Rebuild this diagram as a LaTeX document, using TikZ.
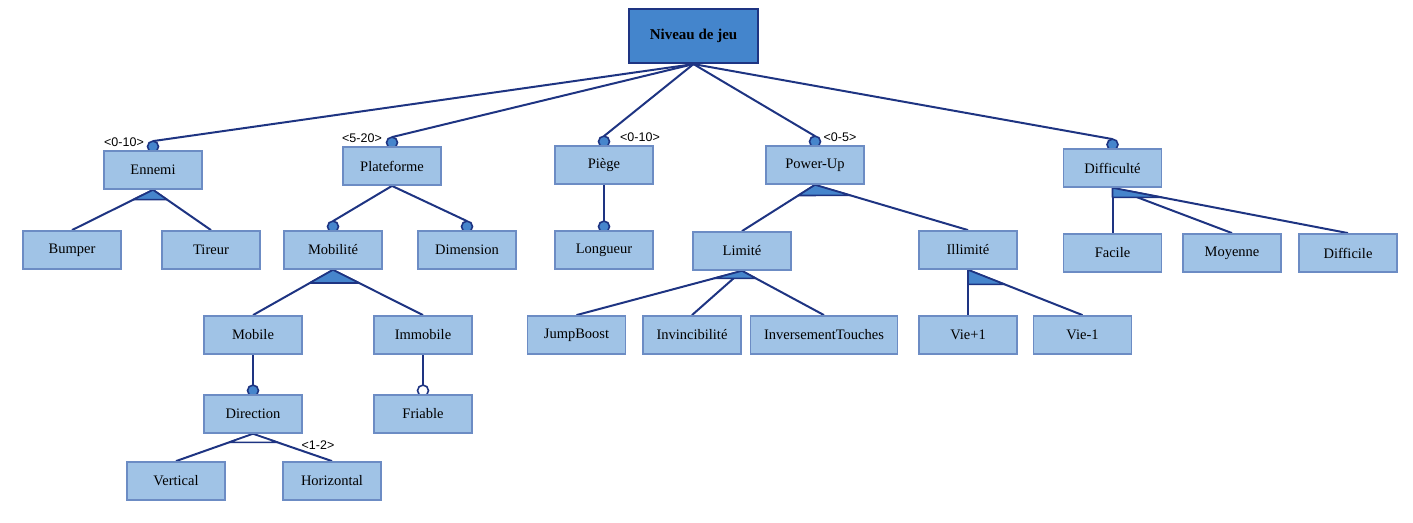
\documentclass[tikz,border=0pt]{standalone}
\usepackage{fontspec}
\setmainfont{Liberation Serif}
\newfontfamily\cardfont{Liberation Sans}
\usetikzlibrary{calc}
\pgfdeclarelayer{bg}
\pgfsetlayers{bg,main}
\definecolor{boxfill}{RGB}{160,195,230}
\definecolor{boxline}{RGB}{108,140,196}
\definecolor{rootfill}{RGB}{68,133,204}
\definecolor{navy}{RGB}{30,52,130}
\definecolor{dotfill}{RGB}{70,133,204}
\newcommand\featlink[3]{%
  \draw[link] (#1) -- ($(#2.north)+(0,-9)$);
  \draw[navy, line width=1.6pt, fill=#3] ($(#2.north)+(0,-3.5)$) circle (5.5);
}
\newcommand\grouptri[5]{%
  \filldraw[navy, fill=#5, line width=1.6pt, line join=round] (#1) -- ($(#1)!#4!(#2)$) -- ($(#1)!#4!(#3)$) -- cycle;
}
\begin{document}
\begin{tikzpicture}[x=1pt,y=-1pt,
  feat/.style={draw=boxline, fill=boxfill, line width=1.8pt, minimum width=98pt, minimum height=38pt, inner sep=0pt, font=\fontsize{14.5}{16}\selectfont},
  rootbox/.style={draw=navy, fill=rootfill, line width=2.2pt, minimum width=129pt, minimum height=54pt, inner sep=0pt, font=\fontsize{15}{17}\selectfont\bfseries},
  link/.style={draw=navy, line width=2pt},
  card/.style={font=\cardfont\fontsize{12.5}{14}\selectfont, inner sep=0pt}
]
\useasboundingbox (0,0) rectangle (1413,522);

\node[rootbox] (root) at (693.5,36) {Niveau de jeu};

\node[feat] (ennemi) at (153,170) {Ennemi};
\node[feat] (plateforme) at (392,166) {Plateforme};
\node[feat] (piege) at (604,165) {Piège};
\node[feat] (powerup) at (815,165) {Power-Up};
\node[feat] (difficulte) at (1112.5,168) {Difficulté};

\node[feat] (bumper) at (72,250) {Bumper};
\node[feat] (tireur) at (211,250) {Tireur};
\node[feat] (mobilite) at (333,250) {Mobilité};
\node[feat] (dimension) at (467,250) {Dimension};
\node[feat] (longueur) at (604,250) {Longueur};
\node[feat] (limite) at (742,251) {Limité};
\node[feat] (illimite) at (968,250) {Illimité};
\node[feat] (facile) at (1112.5,253) {Facile};
\node[feat] (moyenne) at (1232,253) {Moyenne};
\node[feat] (difficile) at (1348,253) {Difficile};

\node[feat] (mobile) at (253,335) {Mobile};
\node[feat] (immobile) at (423,335) {Immobile};
\node[feat] (jumpboost) at (576.5,335) {JumpBoost};
\node[feat] (invincibilite) at (692,335) {Invincibilité};
\node[feat, minimum width=147pt] (invtouches) at (824,335) {InversementTouches};
\node[feat] (vieplus) at (968,335) {Vie+1};
\node[feat] (viemoins) at (1082.5,335) {Vie-1};

\node[feat] (direction) at (253,414) {Direction};
\node[feat] (friable) at (423,414) {Friable};

\node[feat] (vertical) at (176,481) {Vertical};
\node[feat] (horizontal) at (332,481) {Horizontal};

\node[card] (c1) at (124,142) {<0-10>};
\node[card] (c2) at (362,138) {<5-20>};
\node[card] (c3) at (640,137) {<0-10>};
\node[card] (c4) at (840,137) {<0-5>};
\node[card] (c5) at (318,445) {<1-2>};

\begin{pgfonlayer}{bg}
  \featlink{root.south}{ennemi}{dotfill}
  \featlink{root.south}{plateforme}{dotfill}
  \featlink{root.south}{piege}{dotfill}
  \featlink{root.south}{powerup}{dotfill}
  \featlink{root.south}{difficulte}{dotfill}
  \featlink{plateforme.south}{mobilite}{dotfill}
  \featlink{plateforme.south}{dimension}{dotfill}
  \featlink{piege.south}{longueur}{dotfill}
  \featlink{mobile.south}{direction}{dotfill}
  \featlink{immobile.south}{friable}{white}

  \draw[link] (ennemi.south) -- (bumper.north);
  \draw[link] (ennemi.south) -- (tireur.north);
  \grouptri{ennemi.south}{bumper.north}{tireur.north}{0.24}{dotfill}

  \draw[link] (powerup.south) -- (limite.north);
  \draw[link] (powerup.south) -- (illimite.north);
  \grouptri{powerup.south}{limite.north}{illimite.north}{0.23}{dotfill}

  \draw[link] (mobilite.south) -- (mobile.north);
  \draw[link] (mobilite.south) -- (immobile.north);
  \grouptri{mobilite.south}{mobile.north}{immobile.north}{0.29}{dotfill}

  \draw[link] (direction.south) -- (vertical.north);
  \draw[link] (direction.south) -- (horizontal.north);
  \grouptri{direction.south}{vertical.north}{horizontal.north}{0.31}{white}

  \draw[link] (limite.south) -- (jumpboost.north);
  \draw[link] (limite.south) -- (invincibilite.north);
  \draw[link] (limite.south) -- (invtouches.north);
  \grouptri{limite.south}{jumpboost.north}{invtouches.north}{0.17}{dotfill}

  \draw[link] (illimite.south) -- (vieplus.north);
  \draw[link] (illimite.south) -- (viemoins.north);
  \grouptri{illimite.south}{vieplus.north}{viemoins.north}{0.32}{dotfill}

  \draw[link] (difficulte.south) -- (facile.north);
  \draw[link] (difficulte.south) -- (moyenne.north);
  \draw[link] (difficulte.south) -- (difficile.north);
  \grouptri{difficulte.south}{facile.north}{difficile.north}{0.21}{dotfill}
\end{pgfonlayer}
\end{tikzpicture}
\end{document}
